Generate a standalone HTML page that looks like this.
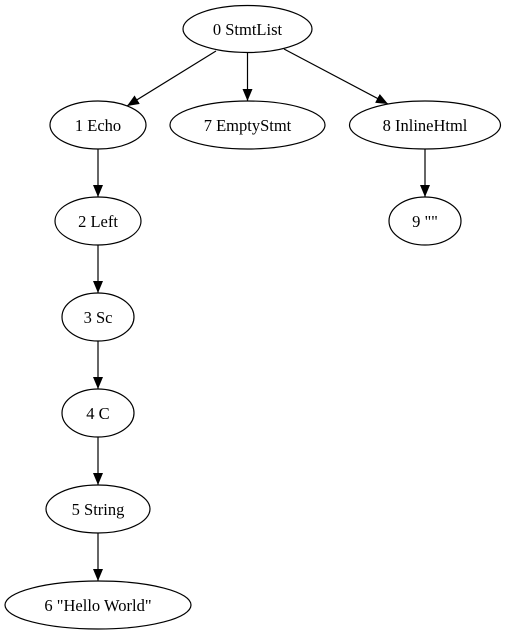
<!DOCTYPE html>
<html><head><meta charset="utf-8"><style>body{margin:0;background:#fff}svg{display:block}text{font-family:"Liberation Serif",serif;font-size:16.5px;text-anchor:middle}</style></head><body>
<svg width="505" height="635" viewBox="0 0 505 635">
<defs><marker id="a" markerWidth="12" markerHeight="10" refX="12" refY="5" orient="auto" markerUnits="userSpaceOnUse"><path d="M0,0 L12,5 L0,10 z" fill="#000"/></marker></defs>
<g fill="none" stroke="#000" stroke-width="1.2">
<ellipse cx="247.5" cy="29" rx="64.5" ry="23.5"/>
<ellipse cx="98" cy="125" rx="48" ry="24"/>
<ellipse cx="247.5" cy="125" rx="77.5" ry="24"/>
<ellipse cx="425" cy="125" rx="75.5" ry="24"/>
<ellipse cx="425" cy="221" rx="36" ry="24"/>
<ellipse cx="98" cy="221" rx="43" ry="24"/>
<ellipse cx="98" cy="317" rx="36" ry="24"/>
<ellipse cx="98" cy="413" rx="36" ry="24"/>
<ellipse cx="98" cy="509" rx="52" ry="24"/>
<ellipse cx="98" cy="605" rx="93" ry="24"/>
<g marker-end="url(#a)">
<line x1="216" y1="51" x2="127" y2="106"/>
<line x1="247.5" y1="52.5" x2="247.5" y2="101"/>
<line x1="284" y1="49" x2="388" y2="104"/>
<line x1="425" y1="149" x2="425" y2="197"/>
<line x1="98" y1="149" x2="98" y2="197"/>
<line x1="98" y1="245" x2="98" y2="293"/>
<line x1="98" y1="341" x2="98" y2="389"/>
<line x1="98" y1="437" x2="98" y2="485"/>
<line x1="98" y1="533" x2="98" y2="581"/>
</g></g>
<g fill="#000">
<text x="247.5" y="35">0 StmtList</text>
<text x="98" y="131">1 Echo</text>
<text x="247.5" y="131">7 EmptyStmt</text>
<text x="425" y="131">8 InlineHtml</text>
<text x="425" y="227">9 ""</text>
<text x="98" y="227">2 Left</text>
<text x="98" y="323">3 Sc</text>
<text x="98" y="419">4 C</text>
<text x="98" y="515">5 String</text>
<text x="98" y="611">6 "Hello World"</text>
</g>
</svg>
</body></html>
